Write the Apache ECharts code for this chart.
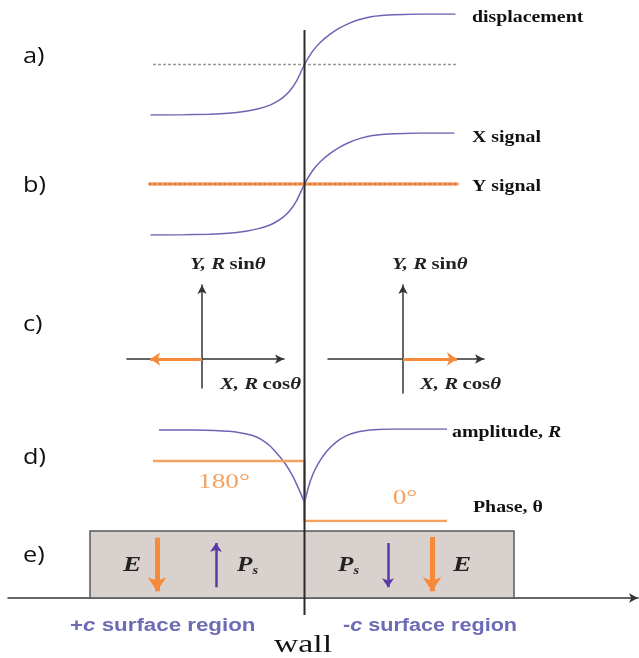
<!DOCTYPE html>
<html>
<head>
<meta charset="utf-8">
<script src="https://cdn.jsdelivr.net/npm/echarts@6.0.0/dist/echarts.min.js"></script>
<style>
  html, body { margin: 0; padding: 0; background: #fff; }
  #chart { width: 639px; height: 658px; }
</style>
</head>
<body>
<div id="chart"></div>
<script>
// position along the sample, wall at 0
const dispPos = [-154, -120, -95, -80, -68, -57, -47, -38, -30, -22, -15, -8, 0, 8, 16, 25, 34, 44, 55, 68, 85, 105, 130, 151];
const displacement = [-1, -0.995, -0.985, -0.97, -0.95, -0.92, -0.88, -0.83, -0.76, -0.66, -0.53, -0.33, 0, 0.26, 0.44, 0.59, 0.71, 0.81, 0.89, 0.95, 0.98, 0.995, 1, 1];
const xSigPos = [-154, -120, -95, -80, -68, -57, -47, -38, -30, -22, -15, -8, 0, 8, 16, 25, 34, 44, 55, 68, 85, 105, 130, 150];
const xSignal = [-1, -0.995, -0.985, -0.97, -0.95, -0.92, -0.88, -0.83, -0.76, -0.66, -0.53, -0.33, 0, 0.26, 0.44, 0.59, 0.71, 0.81, 0.89, 0.95, 0.98, 0.995, 1, 1];
const ySignalPos = [-156, 154];
const ySignal = [0, 0];
const refPos = [-151.5, 151.5];
const refLine = [0, 0];

const ampLeftPos = [-145.5, -110, -90, -75, -62, -52, -43, -35, -28, -21, -15, -10, -5, 0];
const ampLeft = [0.99, 0.99, 0.985, 0.975, 0.955, 0.93, 0.885, 0.82, 0.74, 0.65, 0.55, 0.45, 0.33, 0.2];
const ampRightPos = [0, 4, 8.5, 14, 22.5, 32, 42.5, 54, 65.5, 90, 142.5];
const ampRight = [0.2, 0.37, 0.51, 0.63, 0.76, 0.86, 0.93, 0.97, 0.99, 1, 1];
const phasePos = [-151.5, 0, 0, 142.5];
const phase = [180, 180, 0, 0];

// R cos(theta) of the phasor on each side
const phasorX = [-0.69, 0.72];

// panel e
const boxPos = [-214.5, 209.5];
const ePos = [-147.5, 127.5];
const eFrom = [0.9, 0.91];
const eTo = [0.1, 0.1];
const psPos = [-88.5, 83.5];
const psFrom = [0.16, 0.82];
const psTo = [0.82, 0.16];

const purple = "#6e64b4";
const orange = "#f4a262";
const orangeBold = "#f7893b";
const violet = "#5b3aa8";

function pairs(xs, ys) {
  return xs.map((x, i) => [x, ys[i]]);
}

let chart = echarts.init(document.getElementById("chart"));

const hidden = { show: false };
function posAxis(gridIndex) {
  return { type: "value", gridIndex: gridIndex, min: -304.5, max: 334.5, show: false };
}
function plainAxis(gridIndex, min, max) {
  return { type: "value", gridIndex: gridIndex, min: min, max: max, show: false };
}
function arrowAxis(gridIndex, min, max) {
  return {
    type: "value", gridIndex: gridIndex, min: min, max: max,
    axisLine: { show: true, onZero: true, symbol: ["none", "arrow"], symbolSize: [7, 9],
      lineStyle: { color: "#333", width: 1.5 } },
    axisTick: hidden, axisLabel: hidden, splitLine: hidden,
  };
}
function curve(g, y, xs, ys) {
  return {
    type: "line", xAxisIndex: g, yAxisIndex: y, data: pairs(xs, ys),
    symbol: "none", smooth: 0.25,
    lineStyle: { color: purple, width: 1.5 },
  };
}

let series = [];

// wall
series.push({
  type: "line", xAxisIndex: 6, yAxisIndex: 7, data: [[0, 0], [0, 1]],
  symbol: "none", z: 6, lineStyle: { color: "#2b2b2b", width: 2 },
});

// a) displacement
series.push({
  type: "line", xAxisIndex: 0, yAxisIndex: 0, data: pairs(refPos, refLine), symbol: "none",
  lineStyle: { color: "#9a9a9a", width: 1.5, type: [3, 2] },
});
series.push(curve(0, 0, dispPos, displacement));

// b) X and Y signal
series.push(curve(1, 1, xSigPos, xSignal));
series.push({
  type: "line", xAxisIndex: 1, yAxisIndex: 1, data: pairs(ySignalPos, ySignal),
  symbol: "none", lineStyle: { color: orange, width: 3.5 },
});
series.push({
  type: "line", xAxisIndex: 1, yAxisIndex: 1, data: pairs(ySignalPos, ySignal),
  symbol: "none", lineStyle: { color: "#d9442a", width: 1, type: [3, 2] },
});

// c) phasors
[2, 3].forEach((g, i) => {
  series.push({
    type: "lines", coordinateSystem: "cartesian2d", xAxisIndex: g, yAxisIndex: g,
    symbol: ["none", "arrow"], symbolSize: 10, z: 4,
    lineStyle: { color: orangeBold, width: 3, opacity: 1 },
    data: [{ coords: [[0, 0], [phasorX[i], 0]] }],
  });
});

// d) amplitude and phase
series.push(curve(4, 4, ampLeftPos, ampLeft));
series.push(curve(4, 4, ampRightPos, ampRight));
series.push({
  type: "line", xAxisIndex: 4, yAxisIndex: 5, data: pairs(phasePos, phase),
  symbol: "none", lineStyle: { color: orange, width: 2.5 },
});

// e) domain box and field / polarisation arrows
series.push({
  type: "custom", xAxisIndex: 5, yAxisIndex: 6, z: 1,
  data: [[boxPos[0], boxPos[1], 0, 1]],
  encode: { x: [0, 1], y: [2, 3] },
  renderItem: function (params, api) {
    let p0 = api.coord([api.value(0), api.value(3)]);
    let p1 = api.coord([api.value(1), api.value(2)]);
    return {
      type: "rect",
      shape: { x: p0[0], y: p0[1], width: p1[0] - p0[0], height: p1[1] - p0[1] },
      style: { fill: "#d8d1cd", stroke: "#5a5a5a", lineWidth: 1.5 },
    };
  },
});
series.push({
  type: "lines", coordinateSystem: "cartesian2d", xAxisIndex: 5, yAxisIndex: 6,
  symbol: ["none", "arrow"], symbolSize: [13, 14], z: 4,
  lineStyle: { color: orangeBold, width: 5, opacity: 1 },
  data: ePos.map((x, i) => ({ coords: [[x, eFrom[i]], [x, eTo[i]]] })),
});
series.push({
  type: "lines", coordinateSystem: "cartesian2d", xAxisIndex: 5, yAxisIndex: 6,
  symbol: ["none", "arrow"], symbolSize: [7, 9], z: 4,
  lineStyle: { color: violet, width: 2.5, opacity: 1 },
  data: psPos.map((x, i) => ({ coords: [[x, psFrom[i]], [x, psTo[i]]] })),
});

// the source figure is stretched sideways, so texts get a horizontal scale
function txt(x, y, text, font, fill, align, sx, rich) {
  return {
    type: "group", x: x, y: y, scaleX: sx || 1, z: 10,
    children: [{
      type: "text", x: 0, y: 0, z: 10,
      style: {
        text: text, font: font, fill: fill || "#111",
        align: align || "left", verticalAlign: "middle", rich: rich,
      },
    }],
  };
}
const serifB = "bold 16px 'Liberation Serif', serif";
const serifBI = "italic bold 16px 'Liberation Serif', serif";
const axisRich = {
  i: { font: "italic bold 16px 'Liberation Serif', serif", fill: "#222" },
  b: { font: "bold 16px 'Liberation Serif', serif", fill: "#222" },
};
const psRich = {
  p: { font: "italic bold 21px 'Liberation Serif', serif", fill: "#222" },
  s: { font: "italic bold 12px 'Liberation Serif', serif", fill: "#222", padding: [10, 0, 0, 0] },
};
const letterFont = "22px 'Open Sans', sans-serif";
const regionRich = {
  r: { font: "bold 18px 'Liberation Sans', sans-serif", fill: "#6d6bb5" },
  c: { font: "italic bold 18px 'Liberation Sans', sans-serif", fill: "#6d6bb5" },
};

let graphics = [
  txt(23, 57, "a)", letterFont, "#111", "left", 1.15),
  txt(23, 186, "b)", letterFont, "#111", "left", 1.15),
  txt(23, 325, "c)", letterFont, "#111", "left", 1.15),
  txt(23, 458, "d)", letterFont, "#111", "left", 1.15),
  txt(23, 556, "e)", letterFont, "#111", "left", 1.15),
  txt(472, 18, "displacement", serifB, "#111", "left", 1.24),
  txt(472, 138, "X signal", serifB, "#111", "left", 1.24),
  txt(472, 187, "Y signal", serifB, "#111", "left", 1.24),
  txt(452, 433, "amplitude, {i|R}", serifB, "#111", "left", 1.24,
    { i: { font: serifBI, fill: "#111" } }),
  txt(473, 508, "Phase, θ", serifB, "#111", "left", 1.24),
  txt(190, 265, "{i|Y, R} {b|sin}{i|θ}", "", "#222", "left", 1.3, axisRich),
  txt(392, 265, "{i|Y, R} {b|sin}{i|θ}", "", "#222", "left", 1.3, axisRich),
  txt(220, 385, "{i|X, R} {b|cos}{i|θ}", "", "#222", "left", 1.3, axisRich),
  txt(420, 385, "{i|X, R} {b|cos}{i|θ}", "", "#222", "left", 1.3, axisRich),
  txt(224, 482, "180°", "21px 'Liberation Serif', serif", orange, "center", 1.3),
  txt(405, 498, "0°", "21px 'Liberation Serif', serif", orange, "center", 1.3),
  txt(132, 566, "E", "italic bold 21px 'Liberation Serif', serif", "#222", "center", 1.3),
  txt(462, 566, "E", "italic bold 21px 'Liberation Serif', serif", "#222", "center", 1.3),
  txt(237, 566, "{p|P}{s|s}", "", "#222", "left", 1.2, psRich),
  txt(338, 566, "{p|P}{s|s}", "", "#222", "left", 1.2, psRich),
  txt(70, 626, "{r|+}{c|c}{r| surface region}", "", "#6d6bb5", "left", 1.24, regionRich),
  txt(343, 626, "{r|-}{c|c}{r| surface region}", "", "#6d6bb5", "left", 1.2, regionRich),
  txt(303, 645, "wall", "25px 'Liberation Serif', serif", "#111", "center", 1.35),
];

let option = {
  backgroundColor: "#fff",
  animation: false,
  grid: [
    { left: 0, right: 0, top: 14, height: 101 },
    { left: 0, right: 0, top: 133, height: 102 },
    { left: 127, top: 285, width: 157, height: 103 },
    { left: 328, top: 285, width: 156, height: 108 },
    { left: 0, right: 0, top: 429, height: 92 },
    { left: 8, right: 1, top: 531, height: 67 },
    { left: 0, right: 0, top: 30, height: 585 },
  ],
  xAxis: [
    posAxis(0),
    posAxis(1),
    arrowAxis(2, -1, 1.093),
    arrowAxis(3, -1, 1.08),
    posAxis(4),
    Object.assign(arrowAxis(5, -296.5, 333.5), { position: "bottom" }),
    posAxis(6),
  ],
  yAxis: [
    plainAxis(0, -1, 1),
    plainAxis(1, -1, 1),
    arrowAxis(2, -0.39, 1),
    arrowAxis(3, -0.46, 1),
    plainAxis(4, 0, 1),
    plainAxis(4, 0, 276),
    plainAxis(5, 0, 1),
    plainAxis(6, 0, 1),
  ],
  series: series,
  graphic: graphics,
};
chart.setOption(option);
</script>
</body>
</html>
